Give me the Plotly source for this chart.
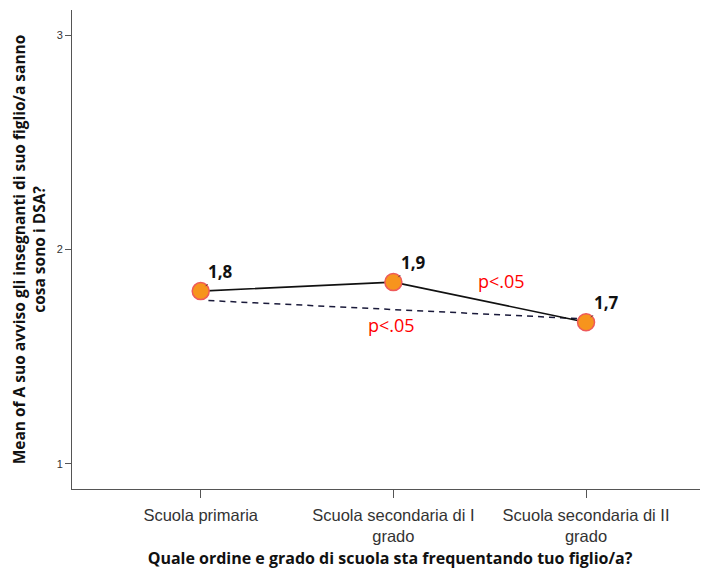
import plotly.graph_objects as go

categories = ["Scuola primaria", "Scuola secondaria di I<br>grado", "Scuola secondaria di II<br>grado"]
means = [1.806, 1.848, 1.661]
mean_labels = ["1,8", "1,9", "1,7"]
sig_line_x = [0.04, 1.96]
sig_line_y = [1.762, 1.678]
sig_labels = ["p<.05", "p<.05"]
sig_label_x = [1.56, 0.99]
sig_label_y = [1.855, 1.65]
y_ticks = [1, 2, 3]

xi = list(range(len(categories)))

fig = go.Figure()
fig.add_trace(go.Scatter(x=sig_line_x, y=sig_line_y, mode="lines",
                         line=dict(color="#1a1a3a", width=1.5, dash="6px,5px"),
                         hoverinfo="skip", showlegend=False))
fig.add_trace(go.Scatter(x=xi, y=means, mode="lines+markers",
                         line=dict(color="#111111", width=1.6),
                         marker=dict(size=17, color="#f7941d", line=dict(color="#ee5a5a", width=1.5)),
                         showlegend=False))

for x, y, t in zip(xi, means, mean_labels):
    fig.add_annotation(x=x, y=y, text="<b>" + t + "</b>", showarrow=True, arrowhead=0, arrowwidth=0.8,
                       arrowcolor="#333", ax=20, ay=-20, standoff=7,
                       font=dict(family="Open Sans", size=17, color="#111"),
                       xanchor="center", yanchor="middle")
for x, y, t in zip(sig_label_x, sig_label_y, sig_labels):
    fig.add_annotation(x=x, y=y, text=t, showarrow=False,
                       font=dict(family="Open Sans", size=18, color="#ff0000"))

fig.update_layout(
    width=700, height=570, paper_bgcolor="white", plot_bgcolor="white",
    margin=dict(l=64, r=0, t=2, b=89),
    font=dict(family="Liberation Sans", color="#333"),
    xaxis=dict(range=[-0.668, 2.633], tickvals=xi, ticktext=categories,
               showgrid=False, zeroline=False, showline=True, linecolor="#555", linewidth=1,
               ticks="outside", ticklen=8, tickcolor="#555", ticklabelstandoff=3,
               tickfont=dict(family="Liberation Sans", size=16.5, color="#333"),
               title=dict(text="<b>Quale ordine e grado di scuola sta frequentando tuo figlio/a?</b>",
                          font=dict(family="Open Sans", size=16, color="#111"), standoff=8)),
    yaxis=dict(range=[0.8834, 3.1166], tickvals=y_ticks, ticktext=[str(v) for v in y_ticks],
               showgrid=False, zeroline=False, showline=True, linecolor="#555", linewidth=1,
               ticks="outside", ticklen=6, tickcolor="#555",
               tickfont=dict(family="Liberation Sans", size=11, color="#333"),
               title=dict(text="<b>Mean of A suo avviso gli insegnanti di suo figlio/a sanno<br>cosa sono i DSA?</b>",
                          font=dict(family="Open Sans", size=15.5, color="#111"), standoff=12)),
)

fig.write_html("out.html")
